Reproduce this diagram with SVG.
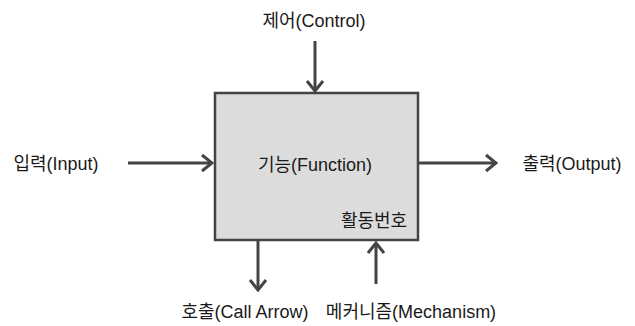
<svg xmlns="http://www.w3.org/2000/svg" width="635" height="326" viewBox="0 0 635 326">
  <style>
    .lbl { font-family: "Liberation Sans", "Noto Sans CJK KR", sans-serif; font-size: 18px; fill: #1a1a1a; text-anchor: middle; }
    .box { fill: #dcdcdc; stroke: #444; stroke-width: 2.5; }
    .edge { fill: none; stroke: #444; stroke-width: 3; marker-end: url(#chev); }
  </style>
  <defs>
    <marker id="chev" markerUnits="userSpaceOnUse" viewBox="-12 -10 14 20" refX="0" refY="0" markerWidth="14" markerHeight="20" orient="auto">
      <path d="M-10,-8 L0,0 L-10,8" fill="none" stroke="#444" stroke-width="3"/>
    </marker>
  </defs>
  <rect width="635" height="326" fill="#fff"/>

  <g id="function">
    <rect class="box" x="215" y="93" width="203" height="147"/>
    <text class="lbl" x="315" y="171">기능(Function)</text>
    <text class="lbl" x="374" y="227">활동번호</text>
  </g>
  <g id="control"><text class="lbl" x="314" y="27">제어(Control)</text></g>
  <g id="input"><text class="lbl" x="56" y="170">입력(Input)</text></g>
  <g id="output"><text class="lbl" x="572" y="170">출력(Output)</text></g>
  <g id="call"><text class="lbl" x="245" y="318">호출(Call Arrow)</text></g>
  <g id="mechanism"><text class="lbl" x="411" y="318">메커니즘(Mechanism)</text></g>

  <g id="connectors">
    <path class="edge" d="M315,41 V91"/>
    <path class="edge" d="M128,163 H212"/>
    <path class="edge" d="M419,163 H496"/>
    <path class="edge" d="M258,241 V290"/>
    <path class="edge" d="M376,284 V243"/>
  </g>
</svg>
